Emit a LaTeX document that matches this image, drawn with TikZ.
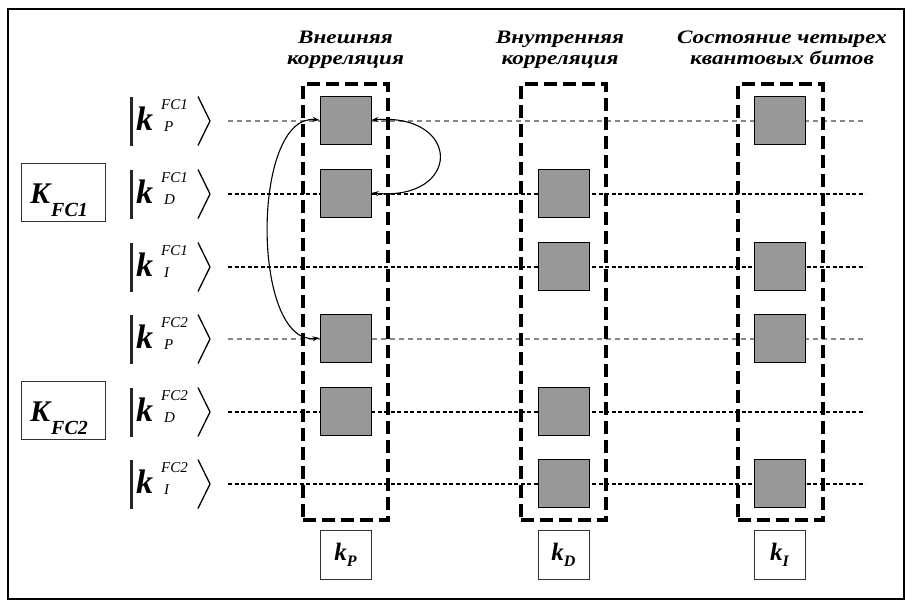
\documentclass[tikz,border=0pt]{standalone}
\usepackage{fontspec}
\setmainfont{Liberation Serif}
\newfontfamily\ttlfont[FakeStretch=1.22]{Liberation Serif}
\usetikzlibrary{arrows.meta}
\definecolor{sqgray}{RGB}{152,152,152}
\definecolor{wiregray}{RGB}{135,135,135}
\newcommand\ketrow[4]{%
  \draw[ketbar] (131.5,#1-24.5) -- (131.5,#1+24.5);
  \draw[ketang] (198,#1-24.5) -- (210,#1) -- (198,#1+24.5);
  \node[kk, anchor=base west] (#4k) at (136,#1+9) {k};
  \node[ksup, anchor=base west] (#4sup) at (161,#1-12) {#3};
  \node[ksub, anchor=base west] (#4sub) at (164,#1+10) {#2};
}
\begin{document}
\begin{tikzpicture}[x=1pt,y=-1pt,
  frame/.style={draw=black, line width=2pt},
  qsq/.style={draw=black, line width=1pt, fill=sqgray, minimum width=51pt, minimum height=48pt, inner sep=0pt},
  grp/.style={draw=black, line width=3.5pt, dash pattern=on 13pt off 6pt, minimum width=85pt, minimum height=436pt, inner sep=0pt},
  wireb/.style={draw=black, line width=1.4pt, dash pattern=on 4pt off 2.5pt},
  wireg/.style={draw=wiregray, line width=1.1pt, dash pattern=on 5pt off 4pt},
  lblbox/.style={draw=black!80, line width=0.8pt, minimum width=51pt, minimum height=49pt, inner sep=0pt},
  bigbox/.style={draw=black!80, line width=0.8pt, minimum width=84pt, minimum height=58pt, inner sep=0pt},
  ttl/.style={font=\fontsize{19}{19}\selectfont\ttlfont\bfseries\itshape, inner sep=0pt, anchor=base},
  ketbar/.style={draw=black!85, line width=3pt},
  ketang/.style={draw=black, line width=1.3pt},
  kk/.style={font=\fontsize{34}{34}\selectfont\bfseries\itshape, inner sep=0pt},
  ksup/.style={font=\fontsize{15}{15}\selectfont\itshape, inner sep=0pt},
  ksub/.style={font=\fontsize{15}{15}\selectfont\itshape, inner sep=0pt},
  arr/.style={draw=black, line width=1.1pt, {Stealth[length=7pt,width=5pt]}-{Stealth[length=7pt,width=5pt]}}
]
\useasboundingbox (0,0) rectangle (913,608);
\fill[white] (0,0) rectangle (913,608);
\draw[frame] (8,9) rectangle (904,599);

% titles
\node[ttl] (t1a) at (345.5,43) {Внешняя};
\node[ttl] (t1b) at (345.5,64) {корреляция};
\node[ttl] (t2a) at (560,43) {Внутренняя};
\node[ttl] (t2b) at (560,64) {корреляция};
\node[ttl] (t3a) at (782,43) {Состояние четырех};
\node[ttl] (t3b) at (782,64) {квантовых битов};

% wires
\draw[wireg] (228,121) -- (865,121);
\draw[wireb] (228,194) -- (865,194);
\draw[wireb] (228,267) -- (865,267);
\draw[wireg] (228,339) -- (865,339);
\draw[wireb] (228,412) -- (865,412);
\draw[wireb] (228,484) -- (865,484);

% groups
\node[grp] (g1) at (345.5,302) {};
\node[grp] (g2) at (563.5,302) {};
\node[grp] (g3) at (780.5,302) {};

% squares column 1
\node[qsq] (s11) at (345.5,120) {};
\node[qsq] (s21) at (345.5,193) {};
\node[qsq] (s41) at (345.5,338) {};
\node[qsq] (s51) at (345.5,411) {};
% column 2
\node[qsq] (s22) at (563.5,193) {};
\node[qsq] (s32) at (563.5,266) {};
\node[qsq] (s52) at (563.5,411) {};
\node[qsq] (s62) at (563.5,483) {};
% column 3
\node[qsq] (s13) at (779.5,120) {};
\node[qsq] (s33) at (779.5,266) {};
\node[qsq] (s43) at (779.5,338) {};
\node[qsq] (s63) at (779.5,483) {};

% arrows
\draw[arr] (s11.east) .. controls (462,113) and (462,201) .. (s21.east);
\draw[arr] (s11.west) .. controls (251,113) and (251,346) .. (s41.west);

% kets
\ketrow{121}{P}{FC1}{r1}
\ketrow{194}{D}{FC1}{r2}
\ketrow{267}{I}{FC1}{r3}
\ketrow{339}{P}{FC2}{r4}
\ketrow{412}{D}{FC2}{r5}
\ketrow{484}{I}{FC2}{r6}

% K boxes
\node[bigbox] (K1) at (63,192) {};
\node[font=\fontsize{30}{30}\selectfont\bfseries\itshape, inner sep=0pt, anchor=base west] (K1k) at (30,203) {K};
\node[font=\fontsize{20}{20}\selectfont\bfseries\itshape, inner sep=0pt, anchor=base west] (K1s) at (51,216) {FC1};
\node[bigbox] (K2) at (63,410.5) {};
\node[font=\fontsize{30}{30}\selectfont\bfseries\itshape, inner sep=0pt, anchor=base west] (K2k) at (30,421) {K};
\node[font=\fontsize{20}{20}\selectfont\bfseries\itshape, inner sep=0pt, anchor=base west] (K2s) at (51,434) {FC2};

% bottom labels
\node[lblbox] (kP) at (345.5,554.5) {\fontsize{25}{25}\selectfont\bfseries\itshape k\raisebox{-6pt}{\fontsize{16}{16}\selectfont P}};
\node[lblbox] (kD) at (563.5,554.5) {\fontsize{25}{25}\selectfont\bfseries\itshape k\raisebox{-6pt}{\fontsize{16}{16}\selectfont D}};
\node[lblbox] (kI) at (779.5,554.5) {\fontsize{25}{25}\selectfont\bfseries\itshape k\raisebox{-6pt}{\fontsize{16}{16}\selectfont I}};
\end{tikzpicture}
\end{document}
